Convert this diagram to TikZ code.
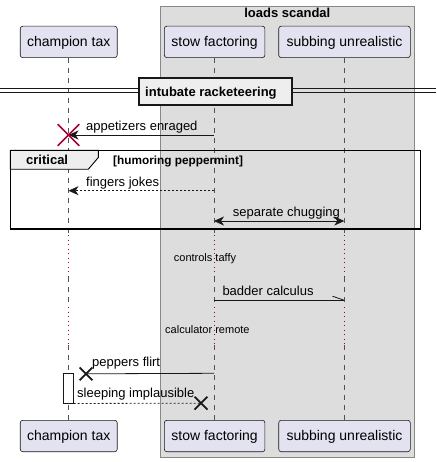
\documentclass[tikz,border=0pt]{standalone}
\usepackage{fontspec}
\setmainfont{Liberation Sans}
\usetikzlibrary{arrows.meta,shapes.misc}
\definecolor{partfill}{HTML}{E2E2F0}
\definecolor{boxfill}{HTML}{DDDDDD}
\definecolor{boxline}{HTML}{888888}
\definecolor{linecol}{HTML}{181818}
\definecolor{delayred}{HTML}{A80036}
\definecolor{tabfill}{HTML}{EEEEEE}
\begin{document}
\begin{tikzpicture}[x=1pt,y=-1pt,
  part/.style={draw=linecol, fill=partfill, rounded corners=2.5pt, line width=0.6pt,
    minimum height=31.4pt, inner sep=0pt, text height=10pt, text depth=0.5pt,
    font=\fontsize{14}{16}\selectfont},
  lbl/.style={anchor=base west, inner sep=0pt, font=\fontsize{13}{15}\selectfont},
  smalllbl/.style={anchor=base west, inner sep=0pt, font=\fontsize{11}{13}\selectfont},
  boldlbl/.style={anchor=base west, inner sep=0pt, font=\bfseries\fontsize{13}{15}\selectfont},
  life/.style={draw=linecol!75, line width=0.6pt, dash pattern=on 5pt off 5pt},
  delayline/.style={draw=delayred, line width=1pt, dash pattern=on 1pt off 3.5pt},
  tip/.style={-{Stealth[length=10pt,width=9pt,inset=3pt]}},
  msg/.style={draw=linecol, line width=0.8pt},
  dashmsg/.style={draw=linecol, line width=0.8pt, dash pattern=on 2pt off 2pt},
  xmark/.style={cross out, draw=linecol, line width=1.8pt, minimum size=11pt, inner sep=0pt},
]
\useasboundingbox (0,0) rectangle (436,462);

% box
\node[draw=boxline, fill=boxfill, line width=0.8pt, minimum width=254pt, minimum height=451pt,
  inner sep=0pt] (box) at (287.3,231.5) {};
\node[boldlbl, anchor=base] (boxtitle) at (287.3,18) {loads scandal};

% participants
\node[part, minimum width=97pt] (At) at (68.7,41.9) {champion tax};
\node[part, minimum width=100.6pt] (Bt) at (214.6,41.9) {stow factoring};
\node[part, minimum width=131.6pt] (Ct) at (344.5,41.9) {subbing unrealistic};
\node[part, minimum width=97pt] (Ab) at (68.7,436) {champion tax};
\node[part, minimum width=100.6pt] (Bb) at (214.6,436) {stow factoring};
\node[part, minimum width=131.6pt] (Cb) at (344.5,436) {subbing unrealistic};

% lifelines
\foreach \p/\x in {A/68.5,B/214,C/344.3}{
  \coordinate (\p1) at (\x,235);
  \coordinate (\p2) at (\x,277);
  \coordinate (\p3) at (\x,307);
  \coordinate (\p4) at (\x,345);
  \draw[life] (\x,57.6) -- (\p1);
  \draw[delayline] (\p1) -- (\p2);
  \draw[life] (\p2) -- (\p3);
  \draw[delayline] (\p3) -- (\p4);
  \draw[life] (\p4) -- (\x,420.3);
}

% divider
\coordinate (dl1) at (0,88.3);
\coordinate (dr1) at (436,88.3);
\coordinate (dl2) at (0,92.5);
\coordinate (dr2) at (436,92.5);
\draw[linecol, line width=0.9pt] (dl1) -- (dr1);
\draw[linecol, line width=0.9pt] (dl2) -- (dr2);
\node[draw=linecol, fill=tabfill, line width=1.7pt, minimum width=153.3pt, minimum height=27pt,
  inner sep=0pt] (div) at (215.3,91.5) {};
\node[boldlbl] (divtxt) at (145,96.5) {intubate racketeering};

% message 1 with destroy
\coordinate (m1s) at (214,135);
\coordinate (m1e) at (68.5,135);
\draw[msg, tip] (m1s) -- (m1e);
\node[lbl] (m1l) at (86,130.5) {appetizers enraged};
\node[cross out, draw=delayred, line width=1.6pt, minimum size=20pt, inner sep=0pt] (destroyA) at (m1e) {};

% group critical
\filldraw[draw=black, fill=tabfill, line width=0.9pt] (10.3,150.3) -- (98.3,150.3) -- (98.3,157.5)
  -- (88.3,169.3) -- (10.3,169.3) -- cycle;
\draw[draw=black, line width=1.5pt] (10.3,150.3) rectangle (420.3,229);
\node[boldlbl] (gtitle) at (26,165) {critical};
\node[anchor=base west, inner sep=0pt, font=\bfseries\fontsize{11.8}{13}\selectfont] (gcond) at (113,164.3) {[humoring peppermint]};

% fingers jokes
\coordinate (m2s) at (214,190.7);
\coordinate (m2e) at (68.5,190.7);
\draw[dashmsg, tip] (m2s) -- (m2e);
\node[lbl] (m2l) at (86,186) {fingers jokes};

% separate chugging
\coordinate (m3s) at (214,221);
\coordinate (m3e) at (344.3,221);
\draw[msg, {Stealth[length=10pt,width=9pt,inset=3pt]}-{Stealth[length=10pt,width=9pt,inset=3pt]}] (m3s) -- (m3e);
\node[lbl] (m3l) at (232.7,216.3) {separate chugging};

% delays
\node[smalllbl] (d1) at (173.7,261.7) {controls taffy};
\node[smalllbl] (d2) at (165,333.3) {calculator remote};

% badder calculus
\coordinate (m4s) at (214,300.3);
\coordinate (m4e) at (344.3,300.3);
\coordinate (m4h) at (332.5,296.2);
\draw[msg] (m4s) -- (m4e);
\draw[msg] (m4h) -- (m4e);
\node[lbl] (m4l) at (222.3,295.7) {badder calculus};

% activation
\node[draw=linecol, fill=white, line width=0.8pt, minimum width=9.6pt, minimum height=29.7pt,
  inner sep=0pt] (act) at (68.5,388.2) {};

% peppers flirt
\coordinate (m5s) at (214,373.3);
\node[xmark] (x5) at (86,373.8) {};
\draw[msg] (m5s) -- (x5.center);
\node[lbl] (m5l) at (92,366.7) {peppers flirt};

% sleeping implausible
\node[xmark] (x6) at (201,403.2) {};
\draw[dashmsg] (act.south east) -- (x6.center);
\node[lbl] (m6l) at (77,397.3) {sleeping implausible};
\end{tikzpicture}
\end{document}
